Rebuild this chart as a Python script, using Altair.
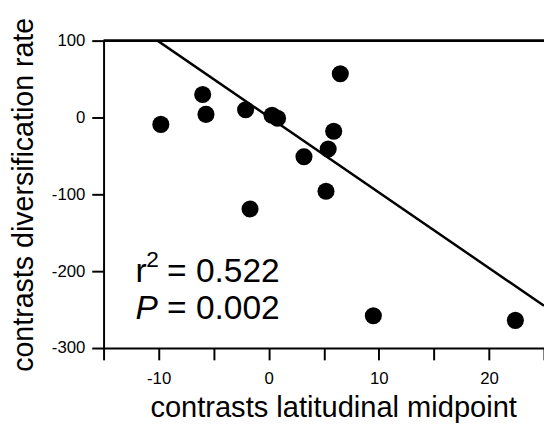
import altair as alt
import pandas as pd

FONT = "Liberation Sans"

# scatter data
x_vals = [-9.8, -6.0, -5.7, -2.1, -1.7, 0.3, 0.8, 3.2, 5.2, 5.4, 5.9, 6.5, 9.5, 22.4]
y_vals = [-9, 30, 4, 10, -119, 3, -1, -51, -96, -41, -18, 57, -258, -264]

# regression line endpoints
fit_x = [-10.1, 25]
fit_y = [100, -245]

# tick values
x_ticks = [-15, -12.5, -10, -7.5, -5, -2.5, 0, 2.5, 5, 7.5, 10, 12.5, 15, 17.5, 20, 22.5, 25]
y_ticks = [-300, -275, -250, -225, -200, -175, -150, -125, -100, -75, -50, -25, 0, 25, 50, 75, 100]

x_title = "contrasts latitudinal midpoint"
y_title = "contrasts diversification rate"

ann_r = ["r", "2", "= 0.522"]
ann_p = ["P", "= 0.002"]
ann_x = -12.1
ann_r_y = -214
ann_p_y = -262

pts = pd.DataFrame({"x": x_vals, "y": y_vals})
fit = pd.DataFrame({"x": fit_x, "y": fit_y})

xscale = alt.Scale(domain=[-15, 25], nice=False, zero=False)
yscale = alt.Scale(domain=[-300, 100], nice=False, zero=False)

common_axis = dict(
    grid=False, domainColor="black", domainWidth=2, tickColor="black", tickWidth=2,
    tickSize=12, labelFont=FONT, labelFontSize=17, labelColor="black",
    titleFont=FONT, titleFontWeight="normal", titleColor="black",
    labelOverlap=False, labelFlush=False, labelBound=False,
)

xaxis = alt.Axis(
    values=x_ticks,
    labelExpr="datum.value % 10 === 0 ? '' + datum.value : ''",
    title=x_title, labelPadding=11, titleFontSize=29.5,
    titleX=233, titleY=69, titleBaseline="alphabetic", titleAlign="center",
    **common_axis,
)
yaxis = alt.Axis(
    values=y_ticks,
    labelExpr="datum.value % 100 === 0 ? '' + datum.value : ''",
    title=y_title, labelPadding=7, titleFontSize=29,
    titleX=-72, titleY=156, titleAngle=270, titleBaseline="alphabetic", titleAlign="center",
    **common_axis,
)

points = alt.Chart(pts).mark_circle(size=300, color="black", opacity=1).encode(
    x=alt.X("x:Q", scale=xscale, axis=xaxis),
    y=alt.Y("y:Q", scale=yscale, axis=yaxis),
)

line = alt.Chart(fit).mark_line(color="black", strokeWidth=2.5, clip=True).encode(
    x=alt.X("x:Q", scale=xscale),
    y=alt.Y("y:Q", scale=yscale),
)

top = alt.Chart(pd.DataFrame({"y": [100]})).mark_rule(color="black", strokeWidth=3).encode(
    y=alt.Y("y:Q", scale=yscale)
)

ann_df_r = pd.DataFrame({"x": [ann_x], "y": [ann_r_y]})
ann_df_p = pd.DataFrame({"x": [ann_x], "y": [ann_p_y]})

def txt(df, text, size, dx=0, dy=0, style="normal"):
    return alt.Chart(df).mark_text(
        text=text, font=FONT, fontSize=size, align="left", baseline="alphabetic",
        color="black", dx=dx, dy=dy, fontStyle=style,
    ).encode(x=alt.X("x:Q", scale=xscale), y=alt.Y("y:Q", scale=yscale))

texts = (
    txt(ann_df_r, ann_r[0], 34)
    + txt(ann_df_r, ann_r[1], 23, dx=11, dy=-15)
    + txt(ann_df_r, ann_r[2], 34, dx=32)
    + txt(ann_df_p, ann_p[0], 34, style="italic")
    + txt(ann_df_p, ann_p[1], 34, dx=32)
)

chart = (top + line + points + texts).properties(
    width=447, height=312,
    padding={"left": 97, "top": 30, "right": 0, "bottom": 74},
    autosize=alt.AutoSizeParams(type="none"),
    background="white",
).configure_view(stroke=None)

chart.save("out.html", embed_options={"renderer": "svg", "actions": False})
